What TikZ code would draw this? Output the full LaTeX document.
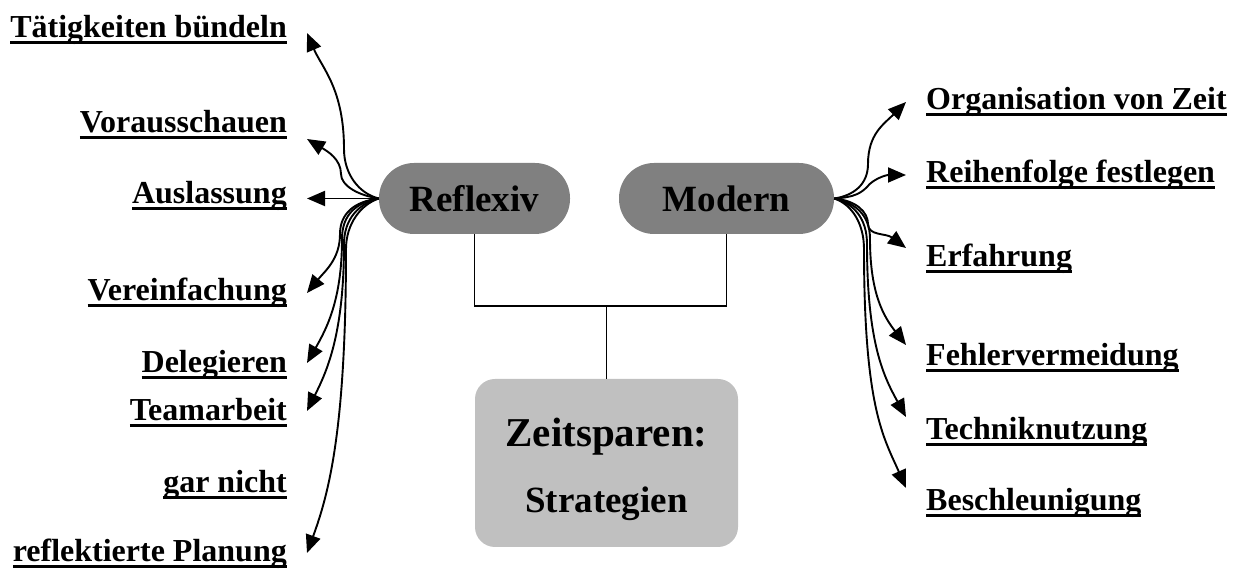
\documentclass[tikz,border=0pt]{standalone}
\usepackage{fontspec}
\setmainfont{Liberation Serif}
\usetikzlibrary{arrows.meta}
\definecolor{dgray}{RGB}{128,128,128}
\definecolor{lgray}{RGB}{192,192,192}
\newsavebox\ulsave
\newcommand\ulbox[1]{\sbox\ulsave{#1}\rlap{\rule[-6.5pt]{\wd\ulsave}{3.3pt}}\usebox\ulsave}
\begin{document}
\begin{tikzpicture}[x=1pt,y=1pt,
  lbl/.style={inner sep=0pt, font=\fontsize{32}{38}\selectfont\bfseries},
  lleft/.style={lbl, anchor=base east},
  lright/.style={lbl, anchor=base west},
  pill/.style={fill=dgray, rounded corners=35pt, minimum height=71pt, inner sep=0pt, font=\fontsize{37}{44}\selectfont\bfseries},
  conn/.style={line width=1.9pt},
  arr/.style={line width=1.9pt, -{Triangle[length=18pt,width=15pt]}},
]
\useasboundingbox (0,0) rectangle (1240,569);

% main nodes
\node[pill, minimum width=191pt] (R) at (474.5,370.5) {Reflexiv};
\node[pill, minimum width=215pt] (M) at (726.5,370.5) {Modern};
\node[fill=lgray, rounded corners=20pt, minimum width=263pt, minimum height=168pt, inner sep=0pt] (Z) at (606.5,106) {};
\node[anchor=base, inner sep=0pt, font=\fontsize{41}{48}\selectfont\bfseries] (Z1) at (606.5,122) {Zeitsparen:};
\node[anchor=base, inner sep=0pt, font=\fontsize{37}{44}\selectfont\bfseries] (Z2) at (606.5,56) {Strategien};

% tree connectors
\coordinate (J) at (606.5,263);
\draw[conn] (R.south) -- (R.south |- J) -- (M.south |- J) -- (M.south);
\draw[conn] (J) -- (Z.north);

% left labels
\node[lleft] (l1) at (287,531) {\ulbox{Tätigkeiten bündeln}};
\node[lleft] (l2) at (287,436) {\ulbox{Vorausschauen}};
\node[lleft] (l3) at (287,365) {\ulbox{Auslassung}};
\node[lleft] (l4) at (287,268) {\ulbox{Vereinfachung}};
\node[lleft] (l5) at (287,196) {\ulbox{Delegieren}};
\node[lleft] (l6) at (287,148) {\ulbox{Teamarbeit}};
\node[lleft] (l7) at (287,76) {\ulbox{gar nicht}};
\node[lleft] (l8) at (287,7) {\ulbox{reflektierte Planung}};

% right labels
\node[lright] (r1) at (926,459) {\ulbox{Organisation von Zeit}};
\node[lright] (r2) at (926,386) {\ulbox{Reihenfolge festlegen}};
\node[lright] (r3) at (926,302) {\ulbox{Erfahrung}};
\node[lright] (r4) at (926,203) {\ulbox{Fehlervermeidung}};
\node[lright] (r5) at (926,129) {\ulbox{Techniknutzung}};
\node[lright] (r6) at (926,58) {\ulbox{Beschleunigung}};

% arrow tips
\coordinate (a1) at (307,536);
\coordinate (a2) at (307,430);
\coordinate (a3) at (307,370.5);
\coordinate (a4) at (307,276);
\coordinate (a5) at (307,206);
\coordinate (a6) at (307,158);
\coordinate (a8) at (307,16);
\coordinate (b1) at (906,467);
\coordinate (b2) at (906,394);
\coordinate (b3) at (906,321);
\coordinate (b4) at (906,224);
\coordinate (b5) at (906,152);
\coordinate (b6) at (906,81);

% bend points of the curved connectors
\coordinate (m1) at (344,420);
\coordinate (m2) at (341,395);
\coordinate (m4) at (340,335);
\coordinate (m5) at (342,330);
\coordinate (m6) at (344,325);
\coordinate (m8) at (346,320);
\coordinate (n1) at (868,405);
\coordinate (n2) at (867,382);
\coordinate (n3) at (868,345);
\coordinate (n4) at (870,330);
\coordinate (n5) at (867,325);
\coordinate (n6) at (864,320);

% left arrows
\draw[arr] (R.west) .. controls +(-20,5) and +(0,-25) .. (m1) .. controls +(0,60) and +(15,-35) .. (a1);
\draw[arr] (R.west) .. controls +(-20,3) and +(0,-12) .. (m2) .. controls +(0,15) and +(20,-12) .. (a2);
\draw[arr] (R.west) -- (a3);
\draw[arr] (R.west) .. controls +(-25,-3) and +(0,20) .. (m4) .. controls +(0,-25) and +(18,22) .. (a4);
\draw[arr] (R.west) .. controls +(-22,-4) and +(0,25) .. (m5) .. controls +(0,-60) and +(20,35) .. (a5);
\draw[arr] (R.west) .. controls +(-20,-5) and +(0,25) .. (m6) .. controls +(0,-90) and +(20,40) .. (a6);
\draw[arr] (R.west) .. controls +(-18,-6) and +(0,25) .. (m8) .. controls +(0,-180) and +(22,60) .. (a8);

% right arrows
\draw[arr] (M.east) .. controls +(20,3) and +(0,-20) .. (n1) .. controls +(0,30) and +(-22,-22) .. (b1);
\draw[arr] (M.east) .. controls +(20,1) and +(-6,-6) .. (n2) .. controls +(6,8) and +(-20,0) .. (b2);
\draw[arr] (M.east) .. controls +(22,-2) and +(0,12) .. (n3) .. controls +(0,-12) and +(-20,15) .. (b3);
\draw[arr] (M.east) .. controls +(20,-4) and +(0,25) .. (n4) .. controls +(0,-55) and +(-22,28) .. (b4);
\draw[arr] (M.east) .. controls +(20,-5) and +(0,25) .. (n5) .. controls +(0,-100) and +(-22,40) .. (b5);
\draw[arr] (M.east) .. controls +(18,-6) and +(0,25) .. (n6) .. controls +(0,-160) and +(-22,50) .. (b6);
\end{tikzpicture}
\end{document}
